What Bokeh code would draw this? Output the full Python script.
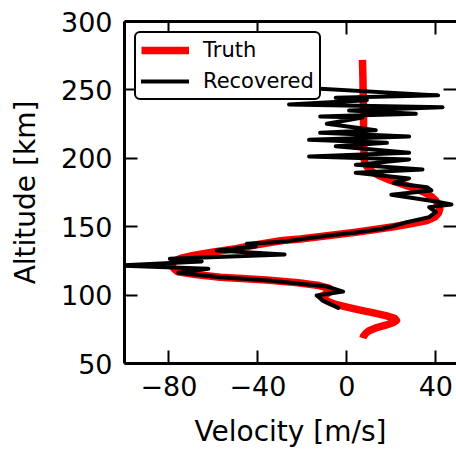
from bokeh.plotting import figure
from bokeh.models import Range1d, LinearAxis, Legend, LegendItem, FixedTicker
from bokeh.embed import file_html
from bokeh.resources import INLINE

# Truth profile (altitude km, velocity m/s)
truth_alt = [272, 260, 250, 240, 230, 220, 210, 200, 197, 194, 190, 187, 184, 181, 178,
             175, 172, 169, 166, 163, 160, 157, 154.5, 152, 150, 148.5, 146, 143.6, 141,
             139.9, 137, 134, 131, 129, 127, 125, 123, 121, 119, 117, 115, 113, 111, 109,
             107, 105, 103, 101, 99, 97, 95, 93, 91, 89, 87, 85, 83, 81.5, 80, 78, 76, 74,
             72, 70, 68.5]
truth_vel = [7.0, 7.2, 7.3, 7.4, 7.5, 7.5, 7.6, 7.8, 8.0, 9.0, 11.5, 15.0, 19.5, 25.0, 30.5,
             35.0, 38.0, 40.0, 41.2, 41.8, 41.2, 39.5, 36.0, 28.0, 21.0, 15.0, 4.0, -8.0, -21.0,
             -29.0, -40.0, -50.0, -62.0, -69.0, -74.5, -77.5, -79.0, -78.5, -77.5, -76.0, -68.0,
             -57.0, -36.0, -22.0, -12.5, -8.0, -7.0, -9.0, -11.5, -10.5, -8.0, -4.5, 0.5, 6.0,
             12.0, 17.5, 21.5, 22.3, 21.0, 17.5, 13.0, 10.0, 8.5, 7.5, 7.2]

# Recovered profile (altitude km, velocity m/s)
rec_alt = [251.5, 246.0, 244.2, 242.5, 239.4, 237.4, 235.0, 232.5, 230.6, 229.8, 225.2,
           220.5, 218.6, 216.0, 213.5, 211.3, 208.8, 204.0, 201.3, 199.1, 195.2, 191.8,
           189.4, 185.3, 182.0, 178.9, 176.5, 173.3, 168.4, 166.2, 164.3, 160.6, 157.0,
           153.3, 150.5, 148.5, 146.0, 143.6, 141.0, 139.3, 138.3, 137.5, 135.5, 132.6,
           129.7, 126.5, 124.6, 121.6, 119.2, 116.3, 113.0, 110.7, 106.3, 102.6, 99.7,
           96.0, 90.7]
rec_vel = [-20.0, 41.0, -5.0, 9.0, -26.0, 43.0, 1.0, 31.0, -12.0, 7.0, -9.0,
           13.0, -12.0, 28.0, -17.0, 18.0, -5.0, 28.0, -17.0, 28.0, 4.0, 34.0,
           4.0, 28.0, 21.0, 36.0, 38.0, 20.0, 40.0, 47.0, 37.0, 40.0, 37.0,
           27.0, 21.0, 16.0, 5.0, -8.0, -20.0, -27.0, -36.0, -45.0, -41.0, -58.6,
           -28.0, -79.6, -65.3, -103.0, -62.3, -75.8, -57.0, -35.0, -9.0, -1.7, -13.6,
           -10.7, -3.9]

x_ticks = [-80, -40, 0, 40]
y_ticks = [50, 100, 150, 200, 250, 300]

FONT = "DejaVu Sans"

p = figure(width=456, height=452, output_backend="svg", toolbar_location=None,
           x_range=Range1d(-100, 49.3), y_range=Range1d(50, 300),
           min_border_left=124, min_border_right=0, min_border_top=21,
           min_border_bottom=89)
p.outline_line_color = None
p.xgrid.visible = False
p.ygrid.visible = False
p.background_fill_color = "white"

r_truth = p.line(truth_vel, truth_alt, line_color="#ff0000", line_width=7.5,
                 line_join="round")
r_rec = p.line(rec_vel, rec_alt, line_color="black", line_width=4,
               line_join="round", line_cap="round")


def style_axis(ax, labels=True):
    ax.axis_line_width = 3
    ax.axis_line_color = "black"
    ax.major_tick_in = 13
    ax.major_tick_out = 0
    ax.major_tick_line_width = 2
    ax.minor_tick_line_color = None
    ax.major_label_text_font = FONT
    if labels:
        ax.major_label_text_color = "black"
        ax.major_label_text_font_size = "27px"
        ax.major_label_standoff = 12
    else:
        ax.major_label_text_color = None
        ax.major_label_text_font_size = "0px"
        ax.major_label_standoff = 0


xa = p.xaxis[0]
xa.ticker = FixedTicker(ticks=x_ticks)
xa.major_label_overrides = {t: (("\u2212" + str(abs(t))) if t < 0 else str(t)) for t in x_ticks}
style_axis(xa)
xa.axis_label = "Velocity [m/s]"
xa.axis_label_text_font = FONT
xa.axis_label_text_color = "black"
xa.axis_label_text_font_size = "28px"
xa.axis_label_text_font_style = "normal"
xa.axis_label_standoff = 16

ya = p.yaxis[0]
ya.ticker = FixedTicker(ticks=y_ticks)
style_axis(ya)
ya.axis_label = "Altitude [km]"
ya.axis_label_text_font = FONT
ya.axis_label_text_color = "black"
ya.axis_label_text_font_size = "28px"
ya.axis_label_text_font_style = "normal"
ya.axis_label_standoff = 16

top = LinearAxis(ticker=FixedTicker(ticks=x_ticks))
style_axis(top, labels=False)
p.add_layout(top, "above")

right = LinearAxis(ticker=FixedTicker(ticks=y_ticks))
style_axis(right, labels=False)
right.axis_line_color = None
p.add_layout(right, "right")

legend = Legend(items=[LegendItem(label="Truth", renderers=[r_truth]),
                       LegendItem(label="Recovered", renderers=[r_rec])],
                location="top_left")
legend.margin = 10
legend.padding = 5
legend.spacing = 7
legend.glyph_width = 48
legend.glyph_height = 24
legend.label_height = 24
legend.label_standoff = 14
legend.label_text_font = FONT
legend.label_text_font_size = "21px"
legend.label_text_color = "black"
legend.border_line_color = "black"
legend.border_line_alpha = 1.0
legend.border_line_width = 2.5
legend.background_fill_color = "white"
legend.background_fill_alpha = 1.0
if "border_radius" in Legend.properties():
    legend.border_radius = 6
p.add_layout(legend)

open("out.html", "w").write(file_html(p, INLINE))
